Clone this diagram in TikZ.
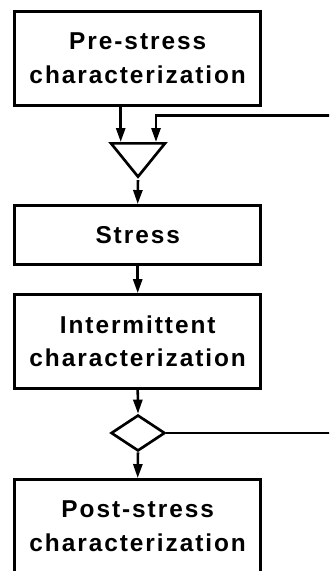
\documentclass[tikz,border=0pt]{standalone}
\usepackage{fontspec}
\setmainfont{Liberation Sans}[LetterSpace=8]
\usetikzlibrary{shapes.geometric,arrows.meta}

\tikzset{
  stepbox/.style={draw, line width=2.2pt, minimum width=184.3pt, inner sep=0pt,
    align=center, font=\bfseries\fontsize{18.3}{25.2}\selectfont},
  flow/.style={line width=1.9pt, -{Triangle[length=10.5pt,width=6.8pt]}},
  gate/.style={draw, line width=2pt, inner sep=0pt}
}

\begin{document}
\begin{tikzpicture}[x=0.75pt,y=0.75pt,yscale=-1,xscale=1]
\useasboundingbox (0,0) rectangle (329,571);
\clip (0,0) rectangle (329,571);

% Boxes
\node [stepbox, minimum height=70.5pt] (pre) at (137.7,58.5) {Pre-stress\\characterization};
\node [stepbox, minimum height=44.25pt] (stress) at (137.7,235) {Stress};
\node [stepbox, minimum height=70.1pt] (inter) at (137.7,341.3) {Intermittent\\characterization};
\node [stepbox, minimum height=70.5pt] (post) at (137.7,526.5) {Post-stress\\characterization};

% Merge triangle
\node [gate, isosceles triangle, shape border rotate=270, isosceles triangle stretches,
  minimum width=40.5pt, minimum height=25pt, anchor=north] (merge) at (138,142) {};
% Decision diamond
\node [gate, diamond, minimum width=40.5pt, minimum height=27pt] (check) at (138,433) {};

% Loop ends
\coordinate (loopin) at (335,115.7);
\coordinate (loopout) at (335,433);
\coordinate (feedtop) at (156,115.7);

% Arrows
\draw [flow] (pre.south -| 120.7,0) -- (merge.north -| 120.7,0);
\draw [flow] (loopin) -- (feedtop) -- (merge.north -| feedtop);
\draw [flow] (merge.apex) -- (stress.north);
\draw [flow] (stress.south) -- (inter.north);
\draw [flow] (inter.south) -- (check.north);
\draw [flow] (check.south) -- (post.north);
\draw [line width=1.9pt] (check.east) -- (loopout);

\end{tikzpicture}
\end{document}
